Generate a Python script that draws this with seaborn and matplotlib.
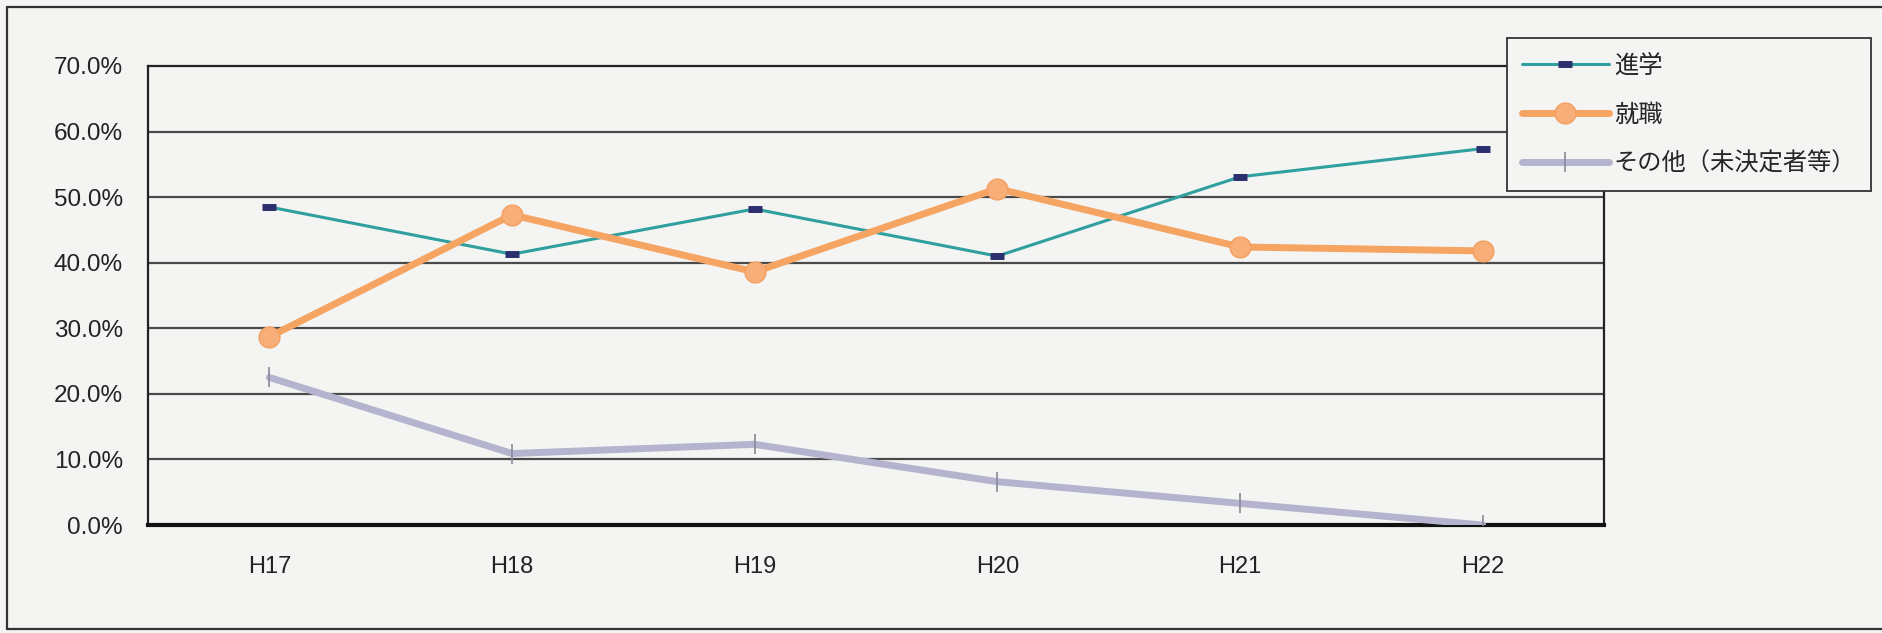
import matplotlib
matplotlib.use("Agg")
import matplotlib.pyplot as plt
from matplotlib.lines import Line2D
from matplotlib.ticker import FixedLocator, FuncFormatter
import seaborn as sns

# ---- data ----
years = ["H17", "H18", "H19", "H20", "H21", "H22"]
shingaku = [48.5, 41.3, 48.2, 41.0, 53.1, 57.4]      # 進学
shushoku = [28.7, 47.3, 38.6, 51.3, 42.4, 41.8]      # 就職
sonota = [22.5, 10.9, 12.3, 6.6, 3.3, 0.0]           # その他（未決定者等）
series_names = ["進学", "就職", "その他（未決定者等）"]
y_ticks = [0, 10, 20, 30, 40, 50, 60, 70]

BG = "#f4f4f2"
sns.set_style("white")
plt.rcParams["font.family"] = ["Liberation Sans", "Noto Sans CJK JP", "DejaVu Sans"]

fig = plt.figure(figsize=(18.82, 6.33), dpi=100, facecolor=BG)
ax = fig.add_axes([148 / 1882, 1 - 525 / 633, (1604 - 148) / 1882, (525 - 66) / 633])
ax.set_facecolor(BG)

sns.lineplot(x=years, y=shingaku, ax=ax, color="#2f9fa0", linewidth=2.2,
             marker="_", markersize=10, markeredgewidth=5, markeredgecolor="#2c2f6e",
             label=series_names[0], sort=False, zorder=3)
sns.lineplot(x=years, y=shushoku, ax=ax, color="#f5a462", linewidth=5,
             marker="o", markersize=15, markerfacecolor="#f7ae78", markeredgecolor="#f3a060",
             markeredgewidth=1, label=series_names[1], sort=False, zorder=4)
sns.lineplot(x=years, y=sonota, ax=ax, color="#b4b4cf", linewidth=5,
             marker="|", markersize=15, markeredgewidth=1.2, markeredgecolor="#8a8a9a",
             label=series_names[2], sort=False, zorder=5)

ax.set_xlim(-0.5, len(years) - 0.5)
ax.set_ylim(0, 70)
ax.set_xlabel("")
ax.set_ylabel("")

ax.yaxis.set_major_locator(FixedLocator(y_ticks))
ax.yaxis.set_major_formatter(FuncFormatter(lambda v, p: f"{v:.1f}%"))
ax.tick_params(axis="y", length=0, pad=18, labelsize=17.5, labelcolor="#222222")
ax.set_xticks(range(len(years)))
ax.set_xticklabels(years)
ax.tick_params(axis="x", which="major", length=0, pad=22, labelsize=17, labelcolor="#222222")
ax.set_xticks([i + 0.5 for i in range(len(years) - 1)], minor=True)
ax.tick_params(axis="x", which="minor", direction="in", length=8, width=1.2, color="#222222")

ax.grid(False)
for v in y_ticks[1:-1]:
    ax.axhline(v, color="#4a4a4a", linewidth=1.6, zorder=1)

for side in ["left", "top", "right"]:
    ax.spines[side].set_color("#222222")
    ax.spines[side].set_linewidth(1.6)
    ax.spines[side].set_visible(True)
ax.spines["bottom"].set_color("#111111")
ax.spines["bottom"].set_linewidth(3)
ax.spines["bottom"].set_visible(True)

leg = ax.legend(loc="upper left", bbox_to_anchor=(1507 / 1882, 1 - 38 / 633),
                bbox_transform=fig.transFigure, frameon=True, fancybox=False,
                facecolor=BG, edgecolor="#333333", framealpha=1,
                prop={"family": ["Noto Sans CJK JP", "DejaVu Sans"], "size": 17.5},
                handlelength=3.6, handletextpad=0.2, labelspacing=0.95,
                borderpad=0.6, borderaxespad=0, numpoints=1)
leg.get_frame().set_linewidth(1.3)
leg.set_zorder(10)

# outer chart border
fig.add_artist(Line2D([7 / 1882, 7 / 1882], [1 - 7 / 633, 1 - 629 / 633], color="#333333", linewidth=1.6))
fig.add_artist(Line2D([7 / 1882, 1], [1 - 7 / 633, 1 - 7 / 633], color="#333333", linewidth=1.6))
fig.add_artist(Line2D([7 / 1882, 1], [1 - 629 / 633, 1 - 629 / 633], color="#333333", linewidth=1.6))

fig.savefig("out.png", dpi=100, facecolor=BG)
